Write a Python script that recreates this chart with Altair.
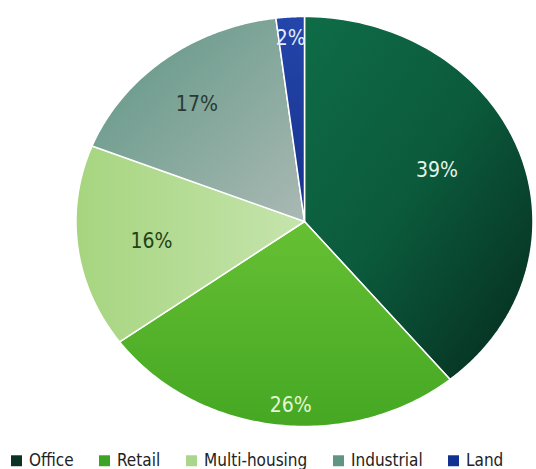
import altair as alt
import pandas as pd

categories = ["Office", "Retail", "Multi-housing", "Industrial", "Land"]
values = [39, 26, 16, 17, 2]
labels = ["39%", "26%", "16%", "17%", "2%"]
legend_colors = ["#0b3324", "#3ba424", "#a9d68a", "#5f9585", "#10318f"]
label_colors = ["#e3f3ea", "#e4f6d2", "#24421a", "#2a3a32", "#e6ecff"]

def lin(c0, c1, x1=0, y1=0, x2=1, y2=1, c_mid=None):
    stops = [{"offset": 0, "color": c0}]
    if c_mid:
        stops.append({"offset": 0.5, "color": c_mid})
    stops.append({"offset": 1, "color": c1})
    return {"gradient": "linear", "x1": x1, "y1": y1, "x2": x2, "y2": y2, "stops": stops}

slice_fills = [
    lin("#0f6c47", "#062e20", 0, 0, 0.9, 1, c_mid="#0b5a3c"),
    lin("#66c033", "#45a723", 0.3, 0, 0.3, 1),
    lin("#a6d57f", "#c6e4ad", 0, 0.5, 1, 0.5),
    lin("#5d9584", "#aab9b3", 0, 0, 1, 1),
    lin("#2446aa", "#16318c", 0, 0, 0, 1),
]

df = pd.DataFrame({
    "category": categories,
    "value": values,
    "label": labels,
    "idx": list(range(len(categories))),
})

FONT = "DejaVu Sans Condensed, DejaVu Sans, sans-serif"

xscale = alt.Scale(domain=[-1, 1], range=[76, 533])
yscale = alt.Scale(domain=[-1, 1], range=[426.5, 16.5])

base = alt.Chart(df).transform_window(
    cum_end="sum(value)", sort=[alt.SortField("idx")]
).transform_joinaggregate(
    total="sum(value)"
).transform_calculate(
    a0="2*PI*(datum.cum_end - datum.value)/datum.total",
    a1="2*PI*datum.cum_end/datum.total",
    amid="2*PI*(datum.cum_end - datum.value/2)/datum.total",
)

slice_layers = []
for cat, fill in zip(categories, slice_fills):
    s = base.transform_filter(alt.datum.category == cat).transform_calculate(
        k="sequence(0, 103)"
    ).transform_flatten(["k"]).transform_calculate(
        ang="datum.a0 + (datum.a1 - datum.a0) * clamp(datum.k - 1, 0, 100) / 100",
        edge="(datum.k >= 1 && datum.k <= 101) ? 1 : 0",
    ).transform_calculate(
        px="datum.edge * sin(datum.ang)",
        py="datum.edge * cos(datum.ang)",
    ).mark_line(
        fill=fill, stroke="white", strokeWidth=1.5, strokeJoin="round"
    ).encode(
        x=alt.X("px:Q", scale=xscale, axis=None),
        y=alt.Y("py:Q", scale=yscale, axis=None),
        order=alt.Order("k:Q"),
    )
    slice_layers.append(s)

legend_layer = alt.Chart(df).mark_square(opacity=0, size=1).encode(
    x=alt.value(0),
    y=alt.value(0),
    color=alt.Color(
        "category:N",
        sort=categories,
        scale=alt.Scale(domain=categories, range=legend_colors),
        legend=alt.Legend(
            title=None,
            orient="none",
            direction="horizontal",
            legendX=8,
            legendY=452,
            symbolType="square",
            symbolSize=120,
            symbolOpacity=1,
            symbolStrokeWidth=0,
            labelFont=FONT,
            labelFontSize=17,
            labelColor="#222222",
            columnPadding=22,
        ),
    ),
)

label_radius = [0.63, 0.90, 0.675, 0.74, 0.89]
label_dx = [-3, 12, 0, -4, -1]
label_dy = [-7, 1, 3, 3, 0]
text_layers = []
for cat, rad, col, ddx, ddy in zip(categories, label_radius, label_colors, label_dx, label_dy):
    t = base.transform_filter(alt.datum.category == cat).transform_calculate(
        px=f"{rad} * sin(datum.amid)",
        py=f"{rad} * cos(datum.amid)",
    ).mark_text(font=FONT, fontSize=21, color=col, dx=ddx, dy=ddy).encode(
        x=alt.X("px:Q", scale=xscale, axis=None),
        y=alt.Y("py:Q", scale=yscale, axis=None),
        text="label:N",
    )
    text_layers.append(t)

chart = alt.layer(*slice_layers, legend_layer, *text_layers).properties(
    width=536,
    height=469,
    padding=0,
    autosize=alt.AutoSizeParams(type="none"),
    background="white",
).configure_view(stroke=None)

chart.save("out.html", embed_options={"renderer": "svg", "actions": False})
